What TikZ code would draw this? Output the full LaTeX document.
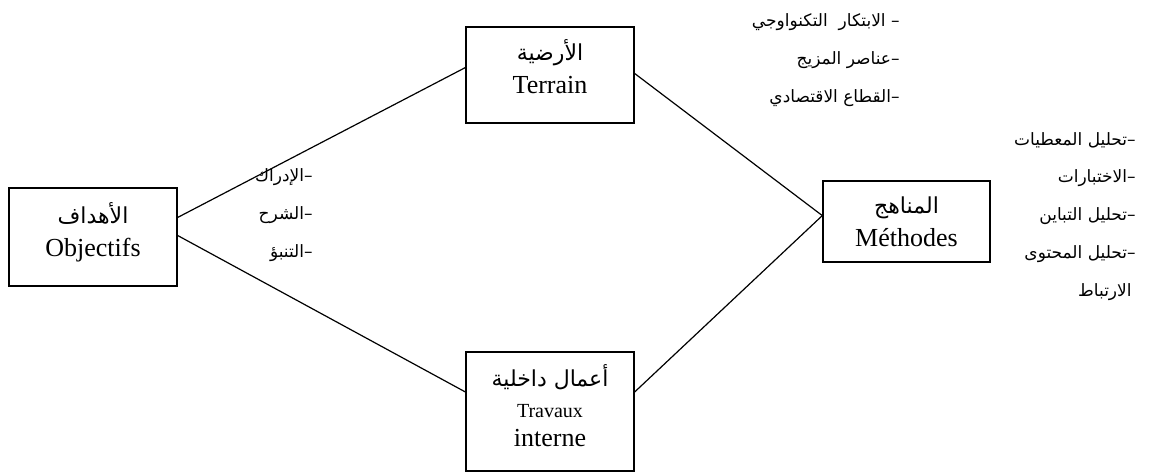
\documentclass[tikz,border=0pt]{standalone}
\usepackage{fontspec}
\setmainfont{Liberation Serif}
\newfontfamily\arabicfont[Script=Arabic]{DejaVu Sans}
\TeXXeTstate=1
\newcommand{\artext}[1]{{\arabicfont\beginR #1\endR}}

\begin{document}
\begin{tikzpicture}[x=0.5pt,y=-0.5pt,-]
    \tikzstyle{box}=[rectangle,draw=black,line width=0.7pt,fill=white,align=center,inner sep=0pt,font=\fontsize{13}{16.5}\selectfont]
    \tikzstyle{item}=[anchor=east,inner sep=0pt,font=\fontsize{8.5}{10}\selectfont]
    \useasboundingbox (0,0) rectangle (1156,475);

    \node[box,minimum width=84pt,minimum height=49pt,text depth=7pt] (obj) at (93,237) {\artext{\fontsize{11}{13}\selectfont الأهداف}\\Objectifs};
    \node[box,minimum width=84pt,minimum height=48pt,text depth=8pt] (ter) at (550,75) {\artext{\fontsize{11}{13}\selectfont الأرضية}\\Terrain};
    \node[box,minimum width=84pt,minimum height=59.5pt,text depth=6pt] (trav) at (550,411.5) {\artext{\fontsize{11}{13}\selectfont أعمال داخلية}\\[-1pt]{\fontsize{10}{12}\selectfont Travaux}\\[-2pt]interne};
    \node[box,minimum width=83.5pt,minimum height=40.5pt] (meth) at (906.5,221.5) {\artext{\fontsize{11}{13}\selectfont المناهج}\\Méthodes};

        \draw[line width=0.6pt] (obj.13) -- (ter.175);
        \draw[line width=0.6pt] (obj.1) -- (trav.167);
        \draw[line width=0.6pt] (ter.1) -- (meth.176);
        \draw[line width=0.6pt] (trav.13) -- (meth.176);

        \foreach \num/\y/\txt in {1/177/–الإدراك, 2/215/–الشرح, 3/253/–التنبؤ}
            \node[item] (L-\num) at (313,\y) {\artext{\txt}};

        \foreach \num/\y/\txt in {1/22/– الابتكار~ التكنواوجي, 2/60/–عناصر المزيج, 3/98/–القطاع الاقتصادي}
            \node[item] (T-\num) at (900,\y) {\artext{\txt}};

        \foreach \num/\y/\txt in {1/140/–تحليل المعطيات, 2/178/–الاختبارات, 3/216/–تحليل التباين, 4/254/–تحليل المحتوى}
            \node[item] (R-\num) at (1136,\y) {\artext{\txt}};
        \node[item] (R-5) at (1132,292) {\artext{الارتباط}};
\end{tikzpicture}
\end{document}
